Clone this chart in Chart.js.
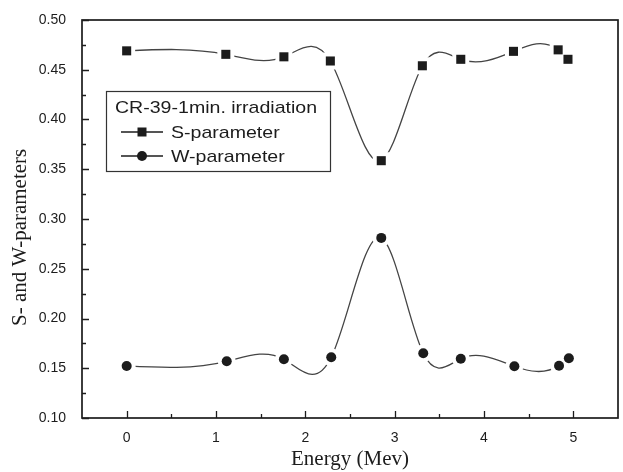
<!DOCTYPE html>
<html>
<head>
<meta charset="utf-8">
<script src="https://cdn.jsdelivr.net/npm/chart.js@4/dist/chart.umd.min.js"></script>
<style>
html,body{margin:0;padding:0;background:#fff;overflow:hidden;width:623px;height:472px;}
#wrap{width:630px;height:472px;position:relative;}
canvas{display:block;}
</style>
</head>
<body>
<div id="wrap"><canvas id="c" width="630" height="472" style="width:630px;height:472px"></canvas></div>
<script>
// ---- data ----
const energyS = [0, 1.11, 1.76, 2.28, 2.85, 3.31, 3.74, 4.33, 4.83, 4.94];
const sParam  = [0.469, 0.4655, 0.463, 0.4588, 0.3586, 0.454, 0.4605, 0.4685, 0.470, 0.4605];
const energyW = [0, 1.12, 1.76, 2.29, 2.85, 3.32, 3.74, 4.34, 4.84, 4.95];
const wParam  = [0.1523, 0.157, 0.159, 0.161, 0.281, 0.165, 0.1596, 0.152, 0.1526, 0.160];
const xTicks  = [0, 1, 2, 3, 4, 5];
const xMinor  = [0.5, 1.5, 2.5, 3.5, 4.5];
const yTicks  = [0.10, 0.15, 0.20, 0.25, 0.30, 0.35, 0.40, 0.45, 0.50];
const yMinor  = [0.125, 0.175, 0.225, 0.275, 0.325, 0.375, 0.425, 0.475];
const legendTitle = 'CR-39-1min. irradiation';
const seriesNames = ['S-parameter', 'W-parameter'];
const xTitle = 'Energy (Mev)';
const yTitle = 'S- and W-parameters';

const INK = '#1c1c1c';
const LINE = '#444';
const SANS = "'Liberation Sans', Arial, sans-serif";
const SERIF = "'Liberation Serif', 'Times New Roman', serif";

const pts = (xs, ys) => xs.map((x, i) => ({x, y: ys[i]}));

// Sets the Bezier control points of Chart.js's own line element so that the
// curve through the data points follows a natural cubic spline (like the original plot).
const splinePlugin = {
  id: 'naturalSpline',
  beforeDatasetsDraw(chart) {
    chart.data.datasets.forEach((ds, di) => {
      if (!ds.naturalSpline) return;
      const meta = chart.getDatasetMeta(di);
      const line = meta.dataset, P = meta.data, n = P.length;
      if (!line || n < 3) return;
      const X = P.map(p => p.x), Y = P.map(p => p.y);
      const h = [];
      for (let i = 0; i < n - 1; i++) h.push(X[i + 1] - X[i]);
      const a = new Array(n).fill(0), b = new Array(n).fill(1), c = new Array(n).fill(0), d = new Array(n).fill(0);
      for (let i = 1; i < n - 1; i++) {
        a[i] = h[i - 1]; b[i] = 2 * (h[i - 1] + h[i]); c[i] = h[i];
        d[i] = 6 * ((Y[i + 1] - Y[i]) / h[i] - (Y[i] - Y[i - 1]) / h[i - 1]);
      }
      for (let i = 1; i < n; i++) {
        const w = a[i] / b[i - 1];
        b[i] -= w * c[i - 1]; d[i] -= w * d[i - 1];
      }
      const M = new Array(n).fill(0);
      M[n - 1] = d[n - 1] / b[n - 1];
      for (let i = n - 2; i >= 0; i--) M[i] = (d[i] - c[i] * M[i + 1]) / b[i];
      const m = new Array(n);
      for (let i = 0; i < n - 1; i++) m[i] = (Y[i + 1] - Y[i]) / h[i] - h[i] * (2 * M[i] + M[i + 1]) / 6;
      m[n - 1] = (Y[n - 1] - Y[n - 2]) / h[n - 2] + h[n - 2] * (M[n - 2] + 2 * M[n - 1]) / 6;
      for (let k = 0; k < n; k++) {
        const p = P[k];
        const hin = k > 0 ? h[k - 1] : 0, hout = k < n - 1 ? h[k] : 0;
        p.cp1x = X[k] - hin / 3; p.cp1y = Y[k] - m[k] * hin / 3;
        p.cp2x = X[k] + hout / 3; p.cp2y = Y[k] + m[k] * hout / 3;
      }
      line._pointsUpdated = true;
    });
  }
};

const framePlugin = {
  id: 'frame',
  beforeDatasetsDraw(chart) {
    const {ctx, chartArea: a, scales: {x, y}} = chart;
    ctx.save();
    ctx.strokeStyle = INK;
    ctx.lineWidth = 1.7;
    ctx.strokeRect(a.left, a.top, a.right - a.left, a.bottom - a.top);
    ctx.lineWidth = 1.3;
    ctx.beginPath();
    xTicks.forEach(v => { const p = Math.round(x.getPixelForValue(v)) + 0.5; ctx.moveTo(p, a.bottom); ctx.lineTo(p, a.bottom - 7); });
    xMinor.forEach(v => { const p = Math.round(x.getPixelForValue(v)) + 0.5; ctx.moveTo(p, a.bottom); ctx.lineTo(p, a.bottom - 4); });
    yTicks.forEach(v => { const p = Math.round(y.getPixelForValue(v)) + 0.5; ctx.moveTo(a.left, p); ctx.lineTo(a.left + 7, p); });
    yMinor.forEach(v => { const p = Math.round(y.getPixelForValue(v)) + 0.5; ctx.moveTo(a.left, p); ctx.lineTo(a.left + 4, p); });
    ctx.stroke();
    ctx.restore();
  }
};

const legendPlugin = {
  id: 'boxLegend',
  afterDraw(chart) {
    const {ctx, chartArea: a} = chart;
    const bx = a.left + 24, by = a.top + 71, bw = 224, bh = 80;
    ctx.save();
    ctx.fillStyle = '#fff';
    ctx.fillRect(bx, by, bw, bh);
    ctx.strokeStyle = '#333';
    ctx.lineWidth = 1.2;
    ctx.strokeRect(bx + 0.5, by + 0.5, bw, bh);
    ctx.fillStyle = INK;
    ctx.font = '17px ' + SANS;
    ctx.textBaseline = 'middle';
    ctx.textAlign = 'left';
    const drawText = (t, x, y) => { ctx.save(); ctx.translate(x, y); ctx.scale(1.15, 1); ctx.fillText(t, 0, 0); ctx.restore(); };
    drawText(legendTitle, bx + 9, by + 17);
    const rows = [by + 41, by + 65];
    rows.forEach((ry, i) => {
      ctx.strokeStyle = INK;
      ctx.lineWidth = 1.3;
      ctx.beginPath();
      ctx.moveTo(bx + 15, ry); ctx.lineTo(bx + 57, ry);
      ctx.stroke();
      ctx.fillStyle = INK;
      const cx = bx + 36;
      if (i === 0) { ctx.fillRect(cx - 4.5, ry - 4.5, 9, 9); }
      else { ctx.beginPath(); ctx.arc(cx, ry, 5, 0, Math.PI * 2); ctx.fill(); }
      drawText(seriesNames[i], bx + 65, ry + 1);
    });
    ctx.restore();
  }
};

new Chart(document.getElementById('c'), {
  type: 'line',
  data: {
    datasets: [
      { label: seriesNames[0] + ' markers', data: pts(energyS, sParam), showLine: false, order: 0,
        pointStyle: 'rect', pointRadius: 6.4, pointBackgroundColor: INK, pointBorderWidth: 0, pointHoverRadius: 6.4 },
      { label: seriesNames[1] + ' markers', data: pts(energyW, wParam), showLine: false, order: 0,
        pointStyle: 'circle', pointRadius: 5, pointBackgroundColor: INK, pointBorderWidth: 0, pointHoverRadius: 5 },
      { label: seriesNames[0], data: pts(energyS, sParam), order: 1, tension: 0.4, naturalSpline: true,
        borderColor: LINE, borderWidth: 1.3, fill: false,
        pointStyle: 'rect', pointRadius: 12, pointBackgroundColor: '#fff', pointBorderWidth: 0, pointHoverRadius: 12 },
      { label: seriesNames[1], data: pts(energyW, wParam), order: 1, tension: 0.4, naturalSpline: true,
        borderColor: LINE, borderWidth: 1.3, fill: false,
        pointStyle: 'circle', pointRadius: 9, pointBackgroundColor: '#fff', pointBorderWidth: 0, pointHoverRadius: 9 }
    ]
  },
  options: {
    responsive: false,
    animation: false,
    events: [],
    layout: { padding: { left: 0, top: 20, right: 4, bottom: 0 } },
    plugins: { legend: { display: false }, tooltip: { enabled: false } },
    scales: {
      x: {
        type: 'linear', min: -0.5, max: 5.5,
        afterBuildTicks: s => { s.ticks = xTicks.map(v => ({value: v})); },
        afterFit: s => { s.height = 54; },
        grid: { display: false },
        border: { display: false },
        ticks: { color: INK, font: { family: SANS, size: 14 }, padding: 4, callback: v => String(v) },
        title: { display: true, text: xTitle, color: INK, font: { family: SERIF, size: 21 }, padding: 0 }
      },
      y: {
        type: 'linear', min: 0.10, max: 0.50,
        afterBuildTicks: s => { s.ticks = yTicks.map(v => ({value: v})); },
        afterFit: s => { s.width = 82; },
        grid: { display: false },
        border: { display: false },
        ticks: { color: INK, font: { family: SANS, size: 14 }, padding: 8, callback: v => Number(v).toFixed(2) },
        title: { display: true, text: yTitle + '       ', color: INK, font: { family: SERIF, size: 21 }, padding: { top: 8, bottom: 0 } }
      }
    }
  },
  plugins: [splinePlugin, framePlugin, legendPlugin]
});
</script>
</body>
</html>
